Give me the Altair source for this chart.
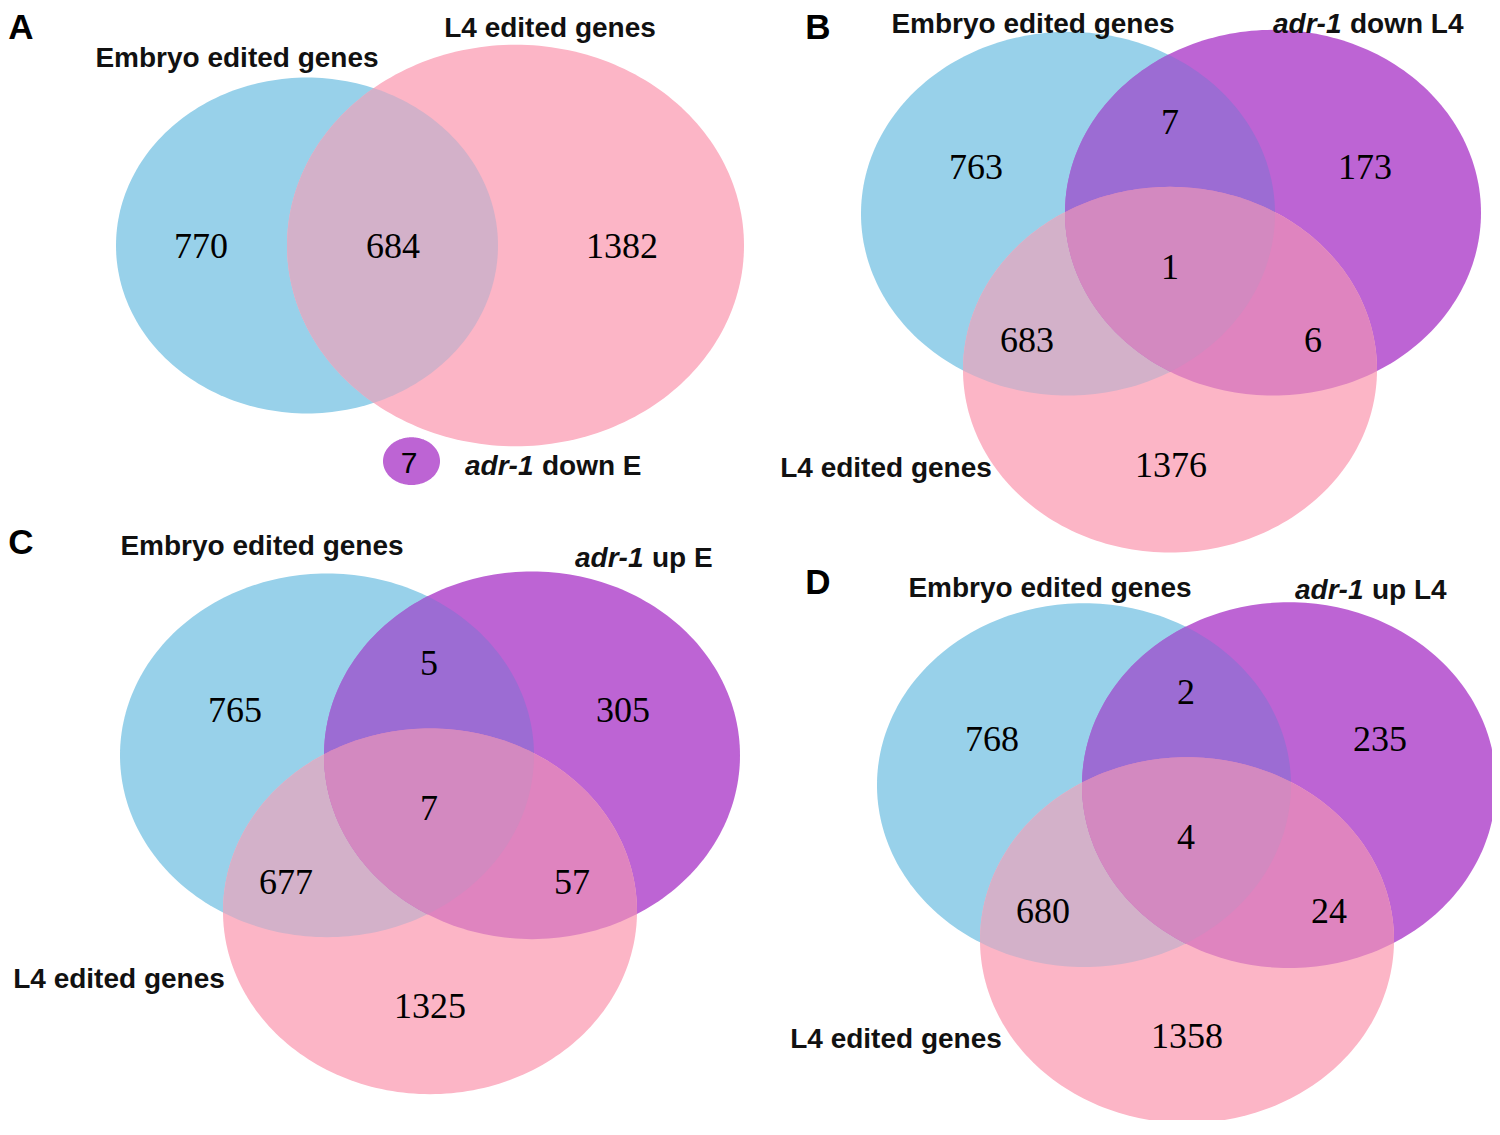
import math
import altair as alt
import pandas as pd

# ---------------- data ----------------
panel_letters = ["A", "B", "C", "D"]
label_embryo = "Embryo edited genes"
label_l4 = "L4 edited genes"
adr_gene = "adr-1"
adr_suffix = ["down E", "down L4", "up E", "up L4"]

# panel A: Embryo only, Embryo∩L4, L4 only ; adr-1 down E (separate set)
counts_A = [770, 684, 1382]
count_A_adr = 7
# panels B-D order: E only, E∩adr, adr only, E∩adr∩L4, E∩L4, adr∩L4, L4 only
counts_B = [763, 7, 173, 1, 683, 6, 1376]
counts_C = [765, 5, 305, 7, 677, 57, 1325]
counts_D = [768, 2, 235, 4, 680, 24, 1358]

# ---------------- layout (pixel coordinates of the figure) ----------------
W, H = 1484, 1112
X0, X1 = 8, 1492
Y0, Y1 = 8, 1127
KY = H / (Y1 - Y0)

ELL = {
    "A": {"E": (307, 247, 191, 169), "L": (515.5, 247, 228.5, 202), "P": (411.5, 464, 28.5, 24)},
    "B": {"E": (1068, 215, 207, 183), "P": (1273, 214, 208, 184), "L": (1170, 372, 207, 184)},
    "C": {"E": (327, 760, 207, 183), "P": (532, 760, 208, 185), "L": (430, 917, 207, 184)},
    "D": {"E": (1084, 790, 207, 183), "P": (1289, 790, 207, 184), "L": (1187, 946, 207, 184)},
}
COL = {"E": "#98d1ea", "P": "#bd64d4", "L": "#fcb5c6",
       "EL": "#d3b1c9", "EP": "#9c6cd3", "PL": "#df84bf", "EPL": "#d389c0"}

NUM_POS = {
    "A": [(201, 247), (393, 247), (622, 247)],
    "B": [(976, 168), (1170, 122), (1365, 168), (1170, 268), (1027, 342), (1313, 342), (1171, 467)],
    "C": [(235, 714), (429, 667), (623, 714), (429, 813), (286, 887), (572, 887), (430, 1012)],
    "D": [(992, 743), (1186, 696), (1380, 743), (1186, 842), (1043, 916), (1329, 916), (1187, 1042)],
}
A_ADR_NUM_POS = (409, 465)
EMB_POS = {"A": (237, 58), "B": (1033, 24), "C": (262, 549), "D": (1050, 591)}
L4_POS = {"A": (550, 28), "B": (886, 470), "C": (119, 985), "D": (896, 1045)}
ADR_POS = {"A": (465, 468), "B": (1273, 24), "C": (575, 561), "D": (1295, 593)}
ADR_GAP = 77
LETTER_POS = {"A": (21, 27), "B": (818, 27), "C": (21, 545), "D": (818, 585)}


# ---------------- geometry helpers ----------------
def ellipse_pts(cx, cy, rx, ry, n=240):
    return [(cx + rx * math.cos(2 * math.pi * i / n), cy + ry * math.sin(2 * math.pi * i / n)) for i in range(n)]


def _inter(p, q, a, b):
    x1, y1 = p
    x2, y2 = q
    x3, y3 = a
    x4, y4 = b
    d = (x1 - x2) * (y3 - y4) - (y1 - y2) * (x3 - x4)
    t = ((x1 - x3) * (y3 - y4) - (y1 - y3) * (x3 - x4)) / d
    return (x1 + t * (x2 - x1), y1 + t * (y2 - y1))


def clip(subject, clipper):
    ar = sum(clipper[i][0] * clipper[(i + 1) % len(clipper)][1] - clipper[(i + 1) % len(clipper)][0] * clipper[i][1]
             for i in range(len(clipper)))
    s = 1 if ar > 0 else -1

    def inside(p, a, b):
        return s * ((b[0] - a[0]) * (p[1] - a[1]) - (b[1] - a[1]) * (p[0] - a[0])) >= 0

    out = subject
    for i in range(len(clipper)):
        a = clipper[i]
        b = clipper[(i + 1) % len(clipper)]
        inp = out
        out = []
        if not inp:
            break
        for j in range(len(inp)):
            p = inp[j - 1]
            q = inp[j]
            if inside(q, a, b):
                if not inside(p, a, b):
                    out.append(_inter(p, q, a, b))
                out.append(q)
            elif inside(p, a, b):
                out.append(_inter(p, q, a, b))
    return out


S = 300.0


def shape_row(poly, color):
    ax = sum(p[0] for p in poly) / len(poly)
    ay = sum(p[1] for p in poly) / len(poly)
    path = "M" + "L".join(f"{(x - ax) / S:.4f},{(y - ay) * KY / S:.4f}" for x, y in poly) + "Z"
    return {"x": ax, "y": ay, "path": path, "size": (2 * S) ** 2, "color": color}


shape_rows = []
for p in panel_letters:
    e = ELL[p]
    polys = {k: ellipse_pts(*v) for k, v in e.items()}
    if p == "A":
        shape_rows.append(shape_row(polys["E"], COL["E"]))
        shape_rows.append(shape_row(polys["L"], COL["L"]))
        shape_rows.append(shape_row(polys["P"], COL["P"]))
        shape_rows.append(shape_row(clip(polys["E"], polys["L"]), COL["EL"]))
    else:
        for k in ["E", "P", "L"]:
            shape_rows.append(shape_row(polys[k], COL[k]))
        shape_rows.append(shape_row(clip(polys["E"], polys["L"]), COL["EL"]))
        shape_rows.append(shape_row(clip(polys["E"], polys["P"]), COL["EP"]))
        shape_rows.append(shape_row(clip(polys["P"], polys["L"]), COL["PL"]))
        shape_rows.append(shape_row(clip(clip(polys["E"], polys["P"]), polys["L"]), COL["EPL"]))
shapes = pd.DataFrame(shape_rows)

# ---------------- text tables ----------------
num_rows = []
for p, vals in zip(panel_letters, [counts_A, counts_B, counts_C, counts_D]):
    for (x, y), v in zip(NUM_POS[p], vals):
        num_rows.append({"x": x, "y": y, "text": str(v)})
nums = pd.DataFrame(num_rows)

adr_num = pd.DataFrame([{"x": A_ADR_NUM_POS[0], "y": A_ADR_NUM_POS[1], "text": str(count_A_adr)}])

lab_rows = []
for p in panel_letters:
    lab_rows.append({"x": EMB_POS[p][0], "y": EMB_POS[p][1], "text": label_embryo})
    lab_rows.append({"x": L4_POS[p][0], "y": L4_POS[p][1], "text": label_l4})
labels = pd.DataFrame(lab_rows)

adr_it = pd.DataFrame([{"x": ADR_POS[p][0], "y": ADR_POS[p][1], "text": adr_gene} for p in panel_letters])
adr_rest = pd.DataFrame([{"x": ADR_POS[p][0] + ADR_GAP, "y": ADR_POS[p][1], "text": s}
                         for p, s in zip(panel_letters, adr_suffix)])
letters = pd.DataFrame([{"x": LETTER_POS[p][0], "y": LETTER_POS[p][1], "text": p} for p in panel_letters])

xs = alt.Scale(domain=[X0, X1], nice=False, zero=False)
ys = alt.Scale(domain=[Y0, Y1], nice=False, zero=False, reverse=True)
X = alt.X("x:Q", scale=xs, axis=None)
Y = alt.Y("y:Q", scale=ys, axis=None)

shape_layer = alt.Chart(shapes).mark_point(filled=True, opacity=1, strokeWidth=0).encode(
    x=X, y=Y,
    shape=alt.Shape("path:N", scale=None),
    size=alt.Size("size:Q", scale=None),
    color=alt.Color("color:N", scale=None),
)

num_layer = alt.Chart(nums).mark_text(font="Liberation Serif", fontSize=36, baseline="middle",
                                      align="center", dy=1.5, color="black").encode(x=X, y=Y, text="text:N")
adr_num_layer = alt.Chart(adr_num).mark_text(font="Liberation Sans", fontSize=30, baseline="middle",
                                             align="center", dy=1.5, color="black").encode(x=X, y=Y, text="text:N")
label_layer = alt.Chart(labels).mark_text(font="Liberation Sans", fontSize=28, fontWeight="bold",
                                          baseline="middle", align="center", dy=1.5,
                                          color="#111111").encode(x=X, y=Y, text="text:N")
adr_it_layer = alt.Chart(adr_it).mark_text(font="Liberation Sans", fontSize=28, fontStyle="italic",
                                           fontWeight="bold", baseline="middle", align="left", dy=1.5,
                                           color="#111111").encode(x=X, y=Y, text="text:N")
adr_rest_layer = alt.Chart(adr_rest).mark_text(font="Liberation Sans", fontSize=28, fontWeight="bold",
                                               baseline="middle", align="left", dy=1.5,
                                               color="#111111").encode(x=X, y=Y, text="text:N")
letter_layer = alt.Chart(letters).mark_text(font="Liberation Sans", fontSize=35, fontWeight="bold",
                                            baseline="middle", align="center", dy=1.5,
                                            color="black").encode(x=X, y=Y, text="text:N")

chart = alt.layer(shape_layer, num_layer, adr_num_layer, label_layer, adr_it_layer, adr_rest_layer,
                  letter_layer).properties(
    width=W, height=H, padding=0, autosize=alt.AutoSizeParams(type="none")
).configure_view(strokeWidth=0)

chart.save("out.html", embed_options={"renderer": "svg", "actions": False})
